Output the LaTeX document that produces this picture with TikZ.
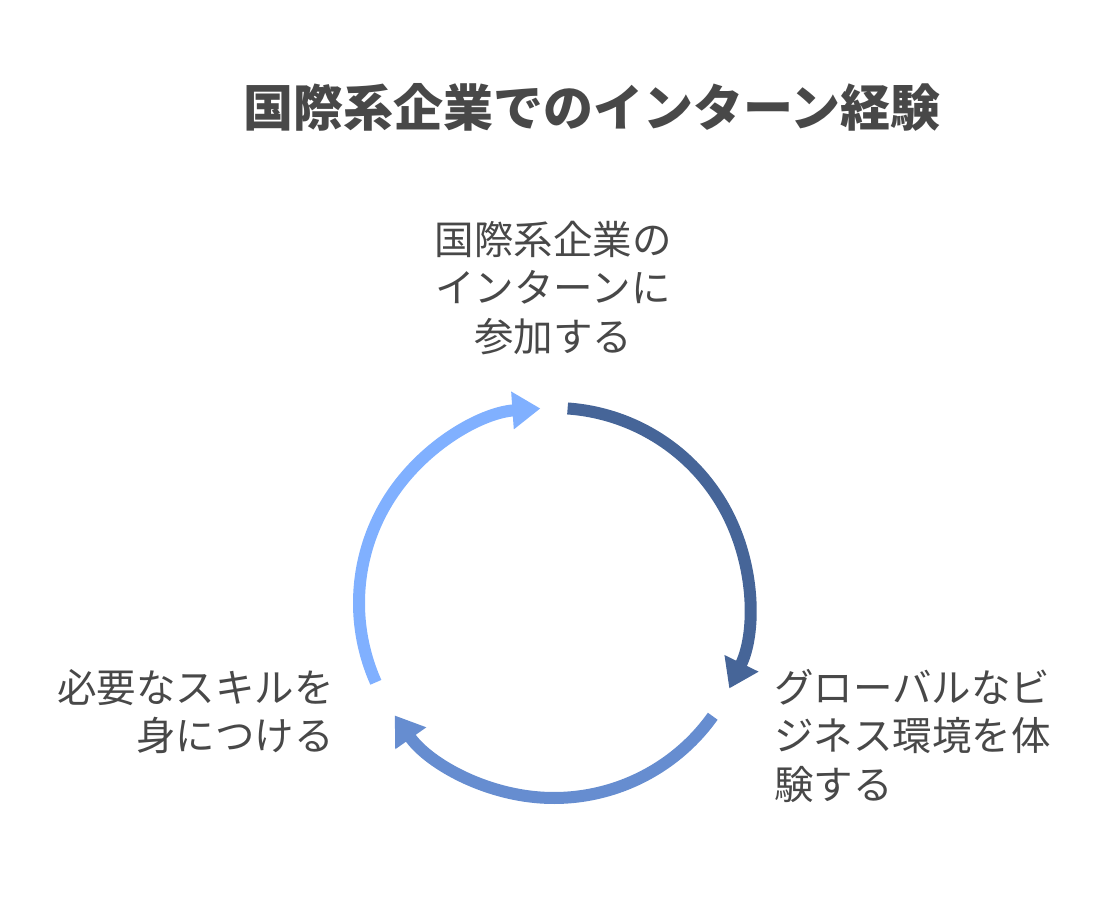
\documentclass[tikz,border=0pt]{standalone}
\usepackage{fontspec}
\newfontfamily\jpfont{Noto Sans CJK JP}
\usetikzlibrary{arrows.meta,calc}
\definecolor{txt}{RGB}{72,72,72}
\definecolor{arcdark}{RGB}{70,101,152}
\definecolor{arcmid}{RGB}{102,141,208}
\definecolor{arclight}{RGB}{128,176,255}
\tikzset{
  lbl/.style={font=\jpfont\fontsize{39.5}{48.5}\selectfont, text=txt, inner sep=0pt},
  cyc/.style={line width=12pt, -{Triangle[width=36pt,length=28pt]}}
}
\begin{document}
\begin{tikzpicture}[x=1pt,y=1pt]
\useasboundingbox (0,0) rectangle (1106,-897);
\node[font=\jpfont\bfseries\fontsize{50}{60}\selectfont, text=txt, inner sep=0pt] (title) at (592,-107) {国際系企業でのインターン経験};
\node[lbl, align=center] (top) at (553,-288) {国際系企業の\\インターンに\\参加する};
\node[lbl, align=left, anchor=north west] (right) at (774,-669) {グローバルなビ\\ジネス環境を体\\験する};
\node[lbl, align=right, anchor=north east] (left) at (334,-669) {必要なスキルを\\身につける};
\coordinate (c) at (554,-603);
\draw[cyc, arcdark] ($(c)+(86:195)$) arc[start angle=86, end angle=-26, radius=195];
\draw[cyc, arcmid] ($(c)+(-35.5:195)$) arc[start angle=-35.5, end angle=-144.8, radius=195];
\draw[cyc, arclight] ($(c)+(204:195)$) arc[start angle=204, end angle=94, radius=195];
\end{tikzpicture}
\end{document}
